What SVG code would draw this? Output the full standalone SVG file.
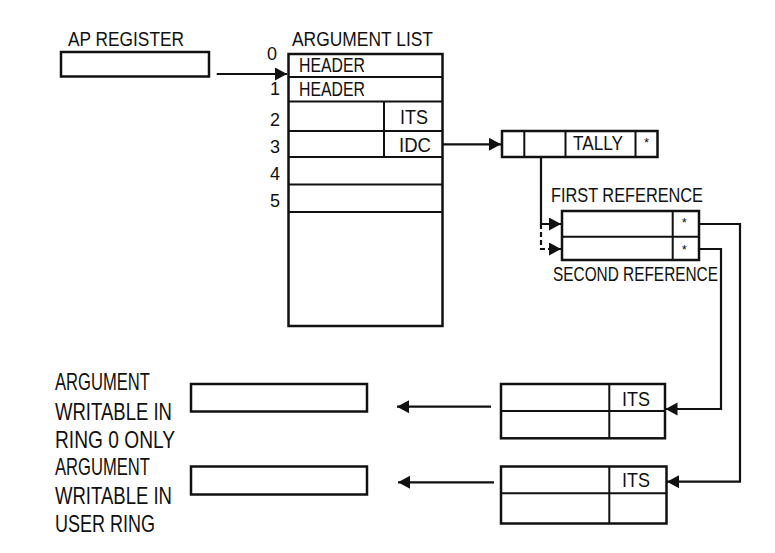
<svg xmlns="http://www.w3.org/2000/svg" width="775" height="553" viewBox="0 0 775 553">
<style>
.bx{fill:none;stroke:#111;stroke-width:2.5}
.ln{fill:none;stroke:#111;stroke-width:2}
.cn{fill:none;stroke:#111;stroke-width:2.2}
.dash{stroke-dasharray:5,3}
text{font-family:"Liberation Sans Narrow","Liberation Sans",Arial,sans-serif;fill:#111}
.t{font-size:21px}
.d{font-size:18px}
.b{font-size:24px}
.s{font-size:13px;text-anchor:middle}
</style>
<defs>
<marker id="ah" markerUnits="userSpaceOnUse" markerWidth="14" markerHeight="14" refX="12" refY="6.5" orient="auto">
<path d="M0,0 L12,6.5 L0,13 z" fill="#111"/>
</marker>
</defs>
<rect width="775" height="553" fill="#fff"/>

<g id="ap-register">
<text class="t" x="68" y="46" textLength="116" lengthAdjust="spacingAndGlyphs">AP REGISTER</text>
<rect class="bx" x="61" y="52" width="148" height="24.5"/>
</g>

<g id="argument-list">
<text class="t" x="292" y="46" textLength="141" lengthAdjust="spacingAndGlyphs">ARGUMENT LIST</text>
<rect class="bx" x="288.5" y="54" width="154" height="272"/>
<path class="ln" d="M288.5,77 H442.5 M288.5,101.5 H442.5 M288.5,131 H442.5 M288.5,157 H442.5 M288.5,184.5 H442.5 M288.5,212 H442.5 M384,101.5 V157"/>
<text class="d" x="267" y="60">0</text>
<text class="d" x="270" y="95">1</text>
<text class="d" x="270" y="126">2</text>
<text class="d" x="270" y="152.5">3</text>
<text class="d" x="270" y="179.5">4</text>
<text class="d" x="270" y="207">5</text>
<text class="t" x="299" y="71.5" textLength="66" lengthAdjust="spacingAndGlyphs">HEADER</text>
<text class="t" x="299" y="96" textLength="66" lengthAdjust="spacingAndGlyphs">HEADER</text>
<text class="t" x="400" y="124" textLength="28" lengthAdjust="spacingAndGlyphs">ITS</text>
<text class="t" x="399" y="151.5" textLength="32" lengthAdjust="spacingAndGlyphs">IDC</text>
</g>

<g id="tally">
<rect class="bx" x="502" y="131" width="155.5" height="26"/>
<path class="ln" d="M524.3,131 V157 M565.5,131 V157 M635.5,131 V157"/>
<text class="t" x="573" y="150" textLength="50" lengthAdjust="spacingAndGlyphs">TALLY</text>
<text class="s" x="646.5" y="146.5">*</text>
</g>

<g id="references">
<text class="t" x="551" y="202" textLength="152" lengthAdjust="spacingAndGlyphs">FIRST REFERENCE</text>
<rect class="bx" x="562" y="211" width="137" height="49"/>
<path class="ln" d="M562,236.7 H699 M672.7,211 V260"/>
<text class="s" x="684.3" y="227">*</text>
<text class="s" x="684.3" y="253.5">*</text>
<text class="t" x="553" y="280.5" textLength="165" lengthAdjust="spacingAndGlyphs">SECOND REFERENCE</text>
</g>

<g id="its-ring0">
<rect class="bx" x="501" y="384" width="164" height="54.3"/>
<path class="ln" d="M501,411 H665 M609.3,384 V438.3"/>
<text class="t" x="622" y="405.5" textLength="28" lengthAdjust="spacingAndGlyphs">ITS</text>
</g>

<g id="its-user">
<rect class="bx" x="501" y="466.5" width="165.5" height="57"/>
<path class="ln" d="M501,493.3 H666.5 M609.3,466.5 V523.5"/>
<text class="t" x="622" y="486.5" textLength="28" lengthAdjust="spacingAndGlyphs">ITS</text>
</g>

<g id="arg-ring0">
<text class="b" x="55" y="390" textLength="95" lengthAdjust="spacingAndGlyphs">ARGUMENT</text>
<text class="b" x="55" y="420" textLength="117" lengthAdjust="spacingAndGlyphs">WRITABLE IN</text>
<text class="b" x="55" y="448" textLength="120" lengthAdjust="spacingAndGlyphs">RING 0 ONLY</text>
<rect class="bx" x="191" y="384" width="176" height="27.5"/>
</g>

<g id="arg-user">
<text class="b" x="55" y="475" textLength="95" lengthAdjust="spacingAndGlyphs">ARGUMENT</text>
<text class="b" x="55" y="503.5" textLength="117" lengthAdjust="spacingAndGlyphs">WRITABLE IN</text>
<text class="b" x="55" y="531.5" textLength="100" lengthAdjust="spacingAndGlyphs">USER RING</text>
<rect class="bx" x="191" y="466.5" width="176" height="28"/>
</g>

<g id="connectors">
<path class="cn" d="M216.7,74 H287" marker-end="url(#ah)"/>
<path class="cn" d="M443,144.3 H501" marker-end="url(#ah)"/>
<path class="cn" d="M541,157 V224 H561" marker-end="url(#ah)"/>
<path class="cn dash" d="M541,224 V249 H561" marker-end="url(#ah)"/>
<path class="cn" d="M699,224 H740 V481.7 H667" marker-end="url(#ah)"/>
<path class="cn" d="M699,249 H721 V409 H665.5" marker-end="url(#ah)"/>
<path class="cn" d="M491,406.7 H397" marker-end="url(#ah)"/>
<path class="cn" d="M494,482.3 H398" marker-end="url(#ah)"/>
</g>
</svg>
